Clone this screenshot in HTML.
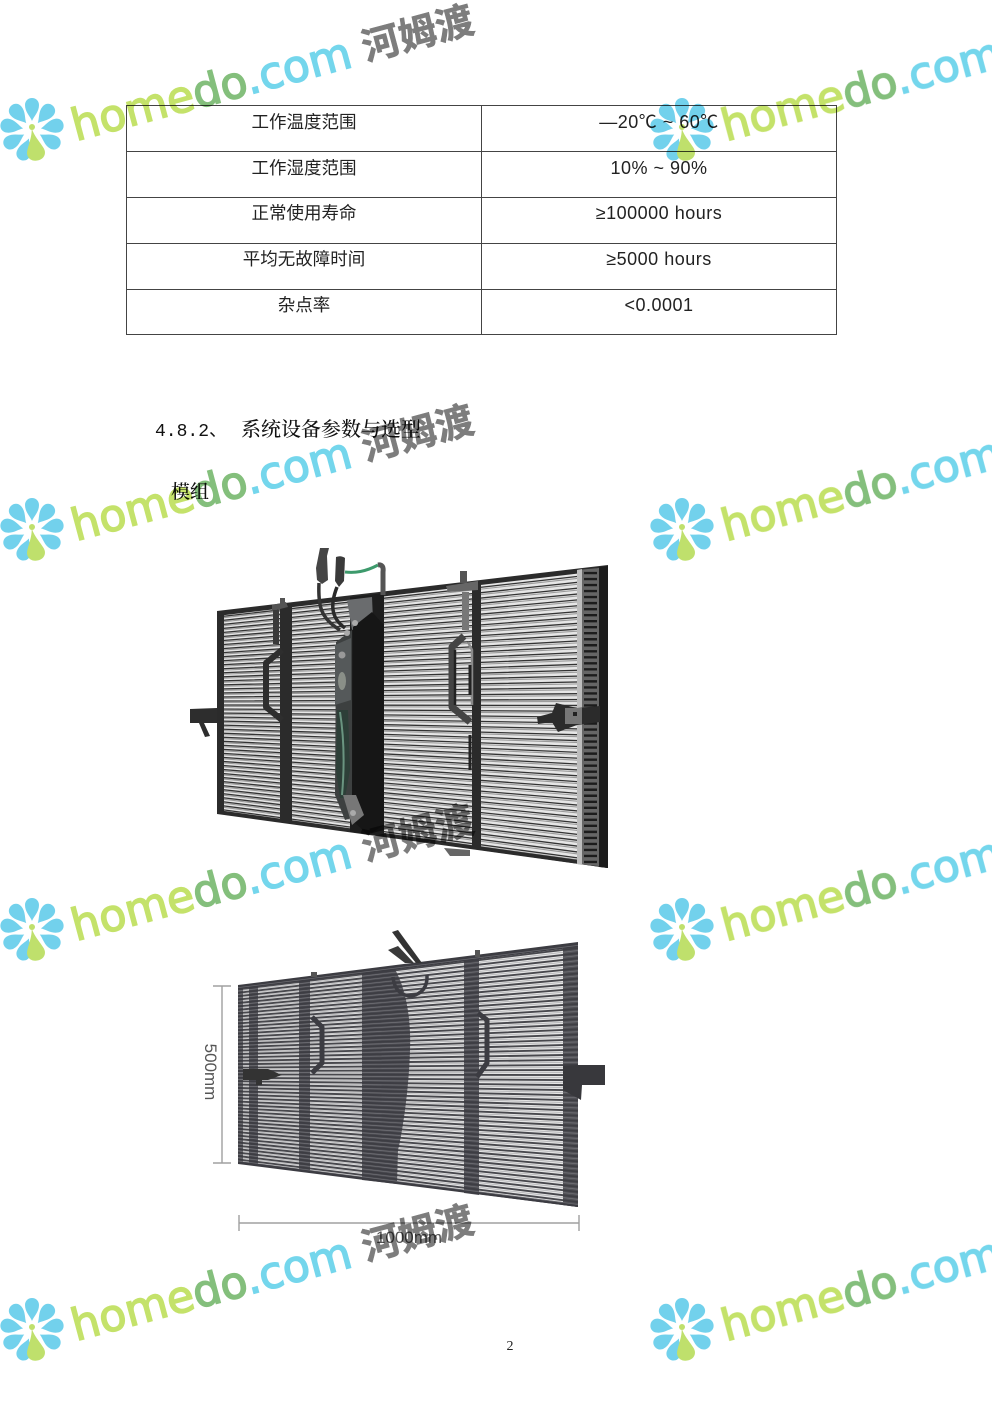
<!DOCTYPE html>
<html><head><meta charset="utf-8"><style>
html,body{margin:0;padding:0;background:#fff}
#p{position:relative;width:992px;height:1403px;overflow:hidden;background:#fff}
svg{position:absolute;left:0;top:0}
.c{font-family:"Noto Sans CJK SC",sans-serif;font-size:17.5px;fill:#222;text-anchor:middle}
.l{font-family:"Liberation Sans","Noto Sans CJK SC",sans-serif;font-size:18px;letter-spacing:.5px;fill:#222;text-anchor:middle}
.s{font-family:"Noto Serif CJK SC","Liberation Serif",serif;font-size:20px;fill:#111;font-weight:500}
.h{font-family:"DejaVu Sans","Liberation Sans",sans-serif;font-size:44px;font-weight:400;stroke-width:1.5px}
.a{fill:#c4e26a;stroke:#c4e26a}.b{fill:#84bf7c;stroke:#84bf7c}.d{fill:#74d6ec;stroke:#74d6ec}
.w{font-family:"Noto Sans CJK SC",sans-serif;font-size:38px;font-weight:700;fill:#7d7d7d;stroke:#7d7d7d;stroke-width:.6px}
</style></head><body><div id="p">
<svg width="992" height="1403" viewBox="0 0 992 1403" xmlns="http://www.w3.org/2000/svg">
<defs>
<clipPath id="c1"><polygon points="217,613 608,567 608,868 217,813"/></clipPath>
<clipPath id="c2"><polygon points="238,986 578,943 578,1207 238,1163"/></clipPath>
</defs>
<!-- table -->
<g stroke="#444" stroke-width="1" fill="none">
<rect x="126.5" y="105.5" width="710" height="229"/>
<path d="M126 151.5H836M126 197.5H836M126 243.5H836M126 289.5H836M481.5 105V334"/>
</g>
<text class="c" x="304" y="128">工作温度范围</text><text class="l" x="659" y="128">—20℃ ~ 60℃</text>
<text class="c" x="304" y="174">工作湿度范围</text><text class="l" x="659" y="174">10% ~ 90%</text>
<text class="c" x="304" y="219">正常使用寿命</text><text class="l" x="659" y="219">≥100000 hours</text>
<text class="c" x="304" y="265">平均无故障时间</text><text class="l" x="659" y="265">≥5000 hours</text>
<text class="c" x="304" y="311">杂点率</text><text class="l" x="659" y="311">&lt;0.0001</text>
<text x="155" y="436" style="font-family:'Liberation Mono',monospace;font-size:18px;font-weight:400" fill="#111">4.8.2、</text>
<text class="s" x="241" y="436">系统设备参数与选型</text>
<text class="s" x="171" y="498" style="font-size:19px" fill="#444">模组</text>
<text x="510" y="1350" style="font-family:'Liberation Serif',serif;font-size:14px;text-anchor:middle" fill="#222">2</text>

<!-- panel 1 -->
<polygon points="217,613 608,567 608,868 217,813" fill="#e6e6e6"/>
<g id="st1" clip-path="url(#c1)"></g>
<g fill="#2b2b2b">
<polygon points="217,613 224,612 224,814 217,813"/>
<polygon points="217,611 608,565 608,570 217,616"/>
<polygon points="217,810 608,864 608,868 217,814"/>
<polygon points="280,605 292,604 292,824 280,822"/>
<polygon points="350,597 384,593 384,836 350,832" fill="#1d1d1d"/>
<polygon points="472,583 481,582 481,850 472,849"/>
<polygon points="599,567 608,566 608,868 599,867" fill="#1c1c1c"/>
<polygon points="577,570 599,568 599,866 577,864" fill="#666"/>
</g>
<g id="st1b" clip-path="url(#c1)"></g>
<polygon points="577,570 582,569 582,865 577,864" fill="#bdbdbd"/>
<!-- handles panel 1 -->
<g fill="none" stroke-linejoin="round">
<polyline points="282,650 266,663 266,707 282,720" stroke="#2e2e2e" stroke-width="6"/>
<polyline points="464,636 452,647 452,707 470,722" stroke="#444" stroke-width="7"/>
<polyline points="468,642 472,650 472,705" stroke="#8a8a8a" stroke-width="2.5"/>
<polyline points="455,650 455,705" stroke="#222" stroke-width="2.5"/>
<path d="M470 665V695M470 735V770" stroke="#222" stroke-width="3"/>
</g>
<!-- bracket tops -->
<path d="M272 605L286 602 288 607 272 611Z" fill="#555"/><rect x="273" y="610" width="6" height="34" fill="#3a3a3a"/><rect x="280" y="598" width="5" height="7" fill="#555"/>
<path d="M446 586L478 581 478 590 448 592Z" fill="#666"/><rect x="460" y="571" width="7" height="12" fill="#555"/>
<rect x="462" y="592" width="7" height="38" fill="#777"/>
<polygon points="444,848 470,850 470,856 450,856" fill="#666"/>
<!-- center module -->
<polygon points="347,600 372,597 373,620 352,630" fill="#6a6c6e"/>
<polygon points="353,627 372,612 384,625 384,825 368,835 352,820" fill="#161616"/>
<polygon points="336,642 352,630 352,818 345,820 335,795" fill="#3d4040"/>
<polygon points="335,645 351,638 351,700 335,705" fill="#55595a"/>
<ellipse cx="342" cy="681" rx="4" ry="9" fill="#8a8f88"/>
<circle cx="342" cy="655" r="3.5" fill="#999"/>
<polygon points="337,710 348,710 350,770 345,798 340,798 336,770" fill="#2d3f38"/>
<path d="M340 712Q346 750 342 795" stroke="#6a9480" stroke-width="2" fill="none"/>
<polygon points="343,795 356,795 364,815 352,825" fill="#777"/>
<circle cx="353" cy="813" r="3" fill="#aaa"/><circle cx="347" cy="633" r="3" fill="#aaa"/><circle cx="355" cy="623" r="3" fill="#aaa"/>
<!-- cables -->
<path d="M319 583C318 605 320 618 340 630" stroke="#333" stroke-width="3.5" fill="none"/>
<path d="M337 587C330 605 331 618 345 628" stroke="#2a2a2a" stroke-width="3.5" fill="none"/>
<path d="M345 572C355 573 365 572 378 565" stroke="#3d9a6c" stroke-width="3" fill="none"/>
<path d="M378 565Q384 564 383 572V595" stroke="#555" stroke-width="5" fill="none"/>
<path d="M320 548H329L327 556 328 580 322 584 317 580 316 568Z" fill="#454545"/>
<path d="M336 557Q341 555 345 558L344 581 339 587 335 581Z" fill="#3a3a3a"/>
<!-- clamps -->
<path d="M190 709L217 708V723H204L210 736 205 737 199 723H190Z" fill="#2d2d2d"/>
<path d="M537 717L552 713 556 703 577 708 600 706V722L577 725 558 732 552 722 538 724Z" fill="#2b2b2b"/>
<rect x="565" y="708" width="17" height="16" fill="#777"/><rect x="573" y="712" width="4" height="4" fill="#222"/>

<!-- panel 2 -->
<polygon points="238,986 578,943 578,1207 238,1163" fill="#e4e4e4"/>
<g id="st2" clip-path="url(#c2)"></g>
<g fill="#3c3c42">
<polygon points="238,985 578,942 578,947 238,989"/>
<polygon points="238,1161 578,1204 578,1207 238,1164"/>
<polygon points="238,986 243,985 243,1164 238,1163" opacity=".85"/>
<polygon points="249,985 258,984 258,1166 249,1165" opacity=".9"/>
<polygon points="299,978 310,977 310,1172 299,1170" opacity=".9"/>
<path d="M362 970L393 966C408 990 411 1025 410 1050C409 1090 402 1135 398 1150L397 1184L362 1180Z" opacity=".9"/>
<polygon points="464,958 479,956 479,1195 464,1193" opacity=".9"/>
<polygon points="563,945 578,943 578,1207 563,1205" opacity=".88"/>
</g>
<g id="st2b" clip-path="url(#c2)"></g>
<g fill="none" stroke="#3c3c42" stroke-width="5" stroke-linejoin="round">
<path d="M312 1017L322 1027V1063L312 1073"/>
<path d="M478 1013L487 1020V1063L477 1077"/>
<path d="M393 977Q395 996 412 996Q428 992 427 975" stroke-width="3.5"/>
</g>
<path d="M243 1069H268L282 1075 268 1080H262L262 1085H256V1080H243Z" fill="#333"/>
<path d="M563 1066L578 1065H605V1085H582L581 1100 563 1090Z" fill="#38383c"/>
<path d="M392 932L398 930 422 963H416L403 947Z" fill="#333"/><path d="M388 950L398 946 414 963 405 963Z" fill="#3a3a3a"/>
<rect x="311" y="972" width="6" height="5" fill="#555"/><rect x="475" y="950" width="5" height="7" fill="#555"/>
<!-- dimensions -->
<g stroke="#a0a0a0" stroke-width="1.4" fill="none">
<path d="M222 986V1163M213 986H231M213 1163H231"/>
<path d="M239 1223H579M239 1215V1231M579 1215V1231"/>
</g>
<text transform="translate(205,1072) rotate(90)" style="font-family:'Liberation Sans',sans-serif;font-size:17px;text-anchor:middle" fill="#555">500mm</text>
<text x="409" y="1243" style="font-family:'Liberation Sans',sans-serif;font-size:17px;text-anchor:middle" fill="#555">1000mm</text>

<!-- watermarks -->
<g id="wm" style="mix-blend-mode:multiply">
<g>
<text class="w" transform="translate(366,61) rotate(-15)">河姆渡</text>
<text class="h" transform="translate(76,141) rotate(-15)" textLength="288" lengthAdjust="spacingAndGlyphs"><tspan class="a">home</tspan><tspan class="b">do</tspan><tspan class="d">.com</tspan></text>
</g>
<g transform="translate(650,0)">
<text class="h" transform="translate(76,141) rotate(-15)" textLength="288" lengthAdjust="spacingAndGlyphs"><tspan class="a">home</tspan><tspan class="b">do</tspan><tspan class="d">.com</tspan></text>
</g>
<g transform="translate(0,400)">
<text class="w" transform="translate(366,61) rotate(-15)">河姆渡</text>
<text class="h" transform="translate(76,141) rotate(-15)" textLength="288" lengthAdjust="spacingAndGlyphs"><tspan class="a">home</tspan><tspan class="b">do</tspan><tspan class="d">.com</tspan></text>
</g>
<g transform="translate(650,400)">
<text class="h" transform="translate(76,141) rotate(-15)" textLength="288" lengthAdjust="spacingAndGlyphs"><tspan class="a">home</tspan><tspan class="b">do</tspan><tspan class="d">.com</tspan></text>
</g>
<g transform="translate(0,800)">
<text class="w" transform="translate(366,61) rotate(-15)">河姆渡</text>
<text class="h" transform="translate(76,141) rotate(-15)" textLength="288" lengthAdjust="spacingAndGlyphs"><tspan class="a">home</tspan><tspan class="b">do</tspan><tspan class="d">.com</tspan></text>
</g>
<g transform="translate(650,800)">
<text class="h" transform="translate(76,141) rotate(-15)" textLength="288" lengthAdjust="spacingAndGlyphs"><tspan class="a">home</tspan><tspan class="b">do</tspan><tspan class="d">.com</tspan></text>
</g>
<g transform="translate(0,1200)">
<text class="w" transform="translate(366,61) rotate(-15)">河姆渡</text>
<text class="h" transform="translate(76,141) rotate(-15)" textLength="288" lengthAdjust="spacingAndGlyphs"><tspan class="a">home</tspan><tspan class="b">do</tspan><tspan class="d">.com</tspan></text>
</g>
<g transform="translate(650,1200)">
<text class="h" transform="translate(76,141) rotate(-15)" textLength="288" lengthAdjust="spacingAndGlyphs"><tspan class="a">home</tspan><tspan class="b">do</tspan><tspan class="d">.com</tspan></text>
</g>
</g>
<g id="fl" style="mix-blend-mode:multiply"></g>
</svg>
</div>
<script>
(function(){
var NS='http://www.w3.org/2000/svg';
function el(p,n,a){var e=document.createElementNS(NS,n);for(var k in a)e.setAttribute(k,a[k]);p.appendChild(e);return e}
var s1=document.getElementById('st1'),d='',i,d2='';
for(i=0;i<=50;i++){
 d+='M217 '+(613+4*i)+'L608 '+(567+6.02*i);
 d2+='M217 '+(614.4+4*i)+'L608 '+(569+6.02*i);
}
el(s1,'path',{d:d2,stroke:'#9a9a9a','stroke-width':1.1,fill:'none'});
el(s1,'path',{d:d,stroke:'#333','stroke-width':1.3,fill:'none'});
var b=document.getElementById('st1b'),d3='';
for(i=0;i<=50;i++){var yl=567+6.02*i;d3+='M584 '+yl+'H597'}
el(b,'path',{d:d3,stroke:'#1c1c1c','stroke-width':2.4,fill:'none'});
var s2=document.getElementById('st2'),e='';
for(i=0;i<=52;i++){e+='M238 '+(986+3.4*i)+'L578 '+(943+5.08*i)}
el(s2,'path',{d:e,stroke:'#48484d','stroke-width':1.9,fill:'none'});
var s2b=document.getElementById('st2b'),e2='';
for(i=0;i<=52;i++){e2+='M238 '+(987.6+3.4*i)+'L578 '+(945.4+5.08*i)}
el(s2b,'path',{d:e2,stroke:'#8a8a90','stroke-width':.7,fill:'none',opacity:.6});
var f=document.getElementById('fl');
[0,650].forEach(function(cx){[0,400,800,1200].forEach(function(cy){
 var g=el(f,'g',{transform:'translate('+(32+cx)+','+(130+cy)+')'});
 [0,40,80,120,200,240,280,320].forEach(function(a){
  el(g,'path',{d:'M0 -9C-2 -14 -7 -18 -7 -25C-7 -29 -4 -32 0 -32C4 -32 7 -29 7 -25C7 -18 2 -14 0 -9Z',fill:'#72d1ec',transform:'rotate('+a+')'});
 });
 el(g,'path',{d:'M0 -2C-1 8 -9 18 -9 23C-9 28 -5 31 0 31C5 31 9 28 9 23C9 18 1 8 0 -2Z',fill:'#bfe06c',transform:'rotate(-10)'});
 el(g,'circle',{cx:0,cy:-3,r:3,fill:'#bfe06c'});
});});
})();
</script>
</body></html>
